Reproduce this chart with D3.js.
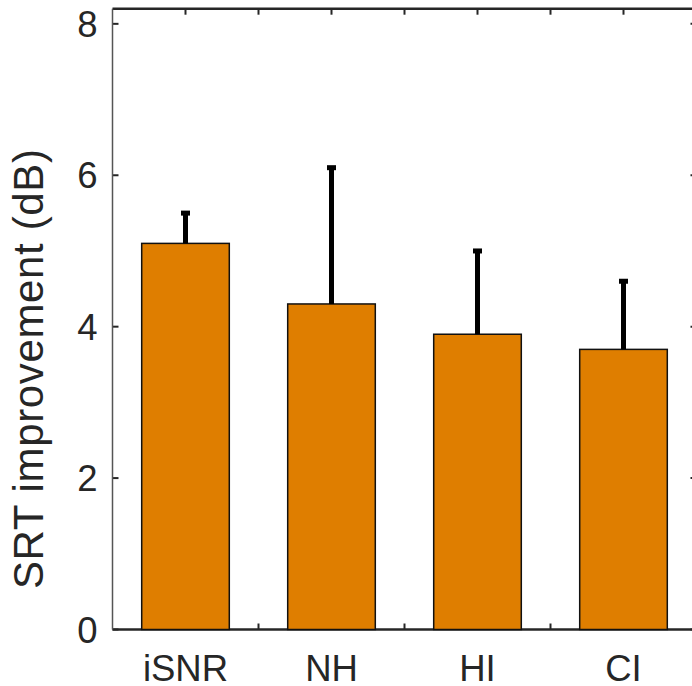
<!DOCTYPE html>
<html>
<head>
<meta charset="utf-8">
<script src="https://cdn.jsdelivr.net/npm/d3@7"></script>
<style>
  body { margin: 0; background: #fff; }
  svg { display: block; }
  text { font-family: "Liberation Sans", Arial, Helvetica, sans-serif; fill: #262626; }
</style>
</head>
<body>
<script>
// chart data
const groups = ["iSNR", "NH", "HI", "CI"];
const means = [5.1, 4.3, 3.9, 3.7];
const upperErr = [0.4, 1.8, 1.1, 0.9];
const yTicks = [0, 2, 4, 6, 8];
const xTicks = [1, 1.5, 2, 2.5, 3, 3.5, 4];

function createChart() {
   const width = 692,
      height = 686;

   const svg = d3.select('body').append('svg')
      .attr('width', width)
      .attr('height', height);

   // axes box (right edge runs slightly past the picture)
   const left = 112.5, right = 696.5, top = 8.7, bottom = 629.5;

   const x = d3.scaleLinear().domain([0.5, 4.5]).range([left, right]);
   const y = d3.scaleLinear().domain([0, 8.2]).range([bottom, top]);

   const axisColor = "#262626";
   const tickLen = 6;

   // ticks (drawn first so bars sit on top)
   const ticks = svg.append("g").attr("stroke", axisColor).attr("stroke-width", 2);
   xTicks.forEach(t => {
      ticks.append("line").attr("x1", x(t)).attr("x2", x(t)).attr("y1", bottom).attr("y2", bottom - tickLen);
      ticks.append("line").attr("x1", x(t)).attr("x2", x(t)).attr("y1", top).attr("y2", top + tickLen);
   });
   yTicks.forEach(t => {
      ticks.append("line").attr("x1", left).attr("x2", left + tickLen).attr("y1", y(t)).attr("y2", y(t));
      ticks.append("line").attr("x1", right).attr("x2", right - tickLen).attr("y1", y(t)).attr("y2", y(t));
   });

   // box lines
   svg.append("line").attr("x1", left).attr("x2", right).attr("y1", top).attr("y2", top)
      .attr("stroke", axisColor).attr("stroke-width", 2.5);
   svg.append("line").attr("x1", left).attr("x2", right).attr("y1", bottom).attr("y2", bottom)
      .attr("stroke", axisColor).attr("stroke-width", 2.5);
   svg.append("line").attr("x1", left).attr("x2", left).attr("y1", top).attr("y2", bottom)
      .attr("stroke", "#555").attr("stroke-width", 1.5);
   svg.append("line").attr("x1", right).attr("x2", right).attr("y1", top).attr("y2", bottom)
      .attr("stroke", axisColor).attr("stroke-width", 2);

   // bars
   const barW = x(1.6) - x(1);
   svg.selectAll(".bar")
      .data(groups)
      .enter().append("rect")
      .attr("class", "bar")
      .attr("x", (d, i) => x(i + 1) - barW / 2)
      .attr("y", (d, i) => y(means[i]))
      .attr("width", barW)
      .attr("height", (d, i) => y(0) - y(means[i]))
      .style("fill", "#DF7E00")
      .style("stroke", "#111")
      .style("stroke-width", 1.5);

   // error bars (upper only)
   const err = svg.append("g");
   groups.forEach((g, i) => {
      const cx = x(i + 1);
      err.append("line")
         .attr("x1", cx).attr("x2", cx)
         .attr("y1", y(means[i])).attr("y2", y(means[i] + upperErr[i]))
         .attr("stroke", "#000").attr("stroke-width", 5);
      err.append("rect")
         .attr("x", cx - 4.5).attr("y", y(means[i] + upperErr[i]) - 2.5)
         .attr("width", 9).attr("height", 5)
         .attr("fill", "#000");
   });

   // tick labels
   svg.selectAll(".ylab")
      .data(yTicks)
      .enter().append("text")
      .attr("class", "ylab")
      .attr("x", left - 15)
      .attr("y", d => y(d))
      .attr("dy", "0.36em")
      .attr("text-anchor", "end")
      .style("font-size", "36.5px")
      .text(d => d);

   svg.selectAll(".xlab")
      .data(groups)
      .enter().append("text")
      .attr("class", "xlab")
      .attr("x", (d, i) => x(i + 1))
      .attr("y", 681)
      .attr("text-anchor", "middle")
      .style("font-size", "36.5px")
      .text(d => d);

   // y axis title
   svg.append("text")
      .attr("transform", `translate(43, ${(top + bottom) / 2 + 50}) rotate(-90)`)
      .attr("text-anchor", "middle")
      .attr("textLength", 440)
      .attr("lengthAdjust", "spacing")
      .style("font-size", "42px")
      .text("SRT improvement (dB)");
}

createChart();
</script>
</body>
</html>
